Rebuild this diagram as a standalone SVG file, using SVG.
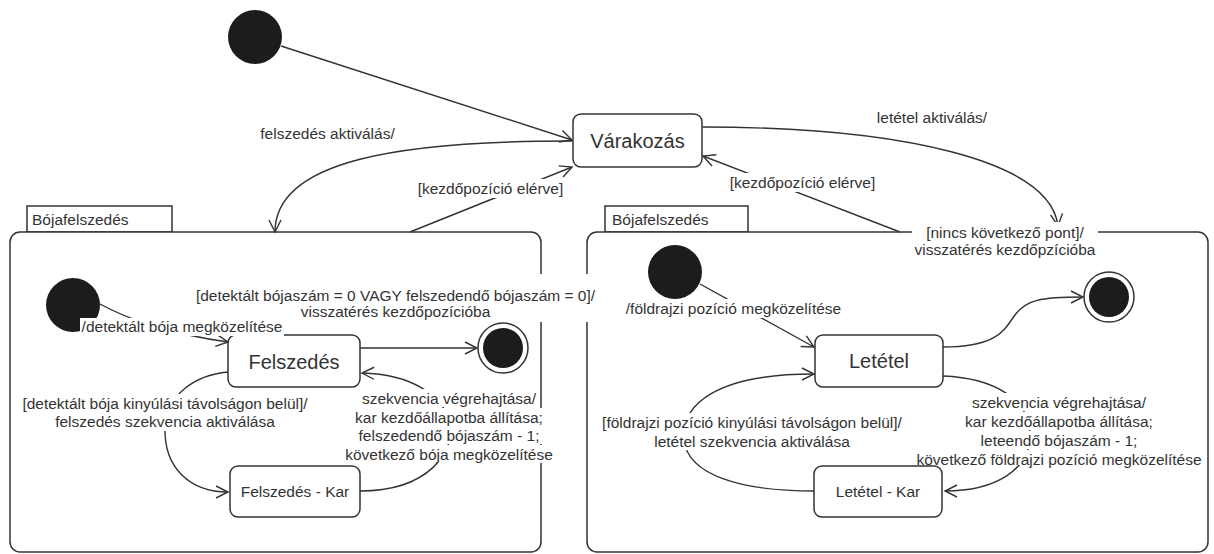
<svg xmlns="http://www.w3.org/2000/svg" width="1214" height="554" viewBox="0 0 1214 554">
<defs>
<marker id="arr" markerWidth="16" markerHeight="16" refX="13" refY="7" orient="auto" markerUnits="userSpaceOnUse"><path d="M1,1 L13,7 L1,13" fill="none" stroke="#333" stroke-width="1.4"/></marker>
<style>
.st{fill:#fff;stroke:#333;stroke-width:1.5}
.blk{fill:#1c1c1c}
.ring{fill:#fff;stroke:#333;stroke-width:1.5}
.t{font-family:"Liberation Sans",Arial,sans-serif;fill:#333}
.lbl{font-size:15.5px;text-anchor:middle}
.nm{font-size:20px;text-anchor:middle}
.sm{font-size:15.5px;text-anchor:middle}
.tab{font-size:15.5px}
.e{fill:none;stroke:#333;stroke-width:1.4;marker-end:url(#arr)}
.bg{fill:#fff}
</style>
</defs>
<rect width="1214" height="554" fill="#fff"/>

<g id="composite-felszedes">
<rect x="27" y="206" width="145" height="26" class="st"/>
<text x="32" y="225" class="t tab">Bójafelszedés</text>
<rect x="10" y="232" width="531" height="320" rx="10" class="st"/>
</g>
<g id="composite-letetel">
<rect x="605" y="206" width="143" height="26" class="st"/>
<text x="612" y="225" class="t tab">Bójafelszedés</text>
<rect x="587" y="232" width="621" height="320" rx="10" class="st"/>
</g>

<g id="connectors">
<path class="e" d="M281,46 L572,140"/>
<path class="e" d="M572,141 C400,141 275,160 275,232"/>
<path class="e" d="M410,232 L572,167"/>
<path class="e" d="M702,127 C900,127 1050,160 1058,226"/>
<path class="e" d="M900,232 L703,156"/>
<path class="e" d="M100,304 C125,318 170,334 228,342"/>
<path class="e" d="M360,348 L477,348"/>
<path class="e" d="M228,372 C195,375 166,395 165,428 C164,468 190,492 228,492"/>
<path class="e" d="M360,491 C430,491 455,450 450,425 C445,395 410,374 362,373"/>
<path class="e" d="M700,284 L814,347"/>
<path class="e" d="M943,347 C1000,347 1005,328 1015,315 C1026,300 1040,297 1083,297"/>
<path class="e" d="M943,376 C995,378 1030,400 1030,435 C1030,470 995,491 945,491"/>
<path class="e" d="M814,491 C740,491 688,475 684,440 C681,405 715,374 814,374"/>
</g>

<g id="initial-top"><circle cx="255" cy="37" r="27" class="blk"/></g>
<g id="varakozas">
<rect x="573" y="114" width="129" height="53" rx="8" class="st"/>
<text x="637.5" y="148" class="t nm" font-size="19">Várakozás</text>
</g>
<g id="initial-felszedes"><circle cx="73" cy="305" r="27" class="blk"/></g>
<g id="felszedes">
<rect x="228" y="335" width="132" height="52" rx="8" class="st"/>
<text x="294" y="369" class="t nm">Felszedés</text>
</g>
<g id="final-felszedes">
<circle cx="503" cy="348" r="25" class="ring"/>
<circle cx="503" cy="348" r="20" class="blk"/>
</g>
<g id="felszedes-kar">
<rect x="230" y="466" width="130" height="51" rx="8" class="st"/>
<text x="295" y="497" class="t sm">Felszedés - Kar</text>
</g>
<g id="initial-letetel"><circle cx="675" cy="272" r="27" class="blk"/></g>
<g id="letetel">
<rect x="815" y="335" width="128" height="52" rx="8" class="st"/>
<text x="879" y="368" class="t nm">Letétel</text>
</g>
<g id="final-letetel">
<circle cx="1109" cy="297" r="25" class="ring"/>
<circle cx="1109" cy="297" r="20" class="blk"/>
</g>
<g id="letetel-kar">
<rect x="814" y="466" width="128" height="51" rx="8" class="st"/>
<text x="878" y="497" class="t sm">Letétel - Kar</text>
</g>

<g id="labels">
<text x="327.5" y="138.5" class="t lbl">felszedés aktiválás/</text>
<rect x="416" y="179" width="150" height="19" class="bg"/>
<text x="490.5" y="193.5" class="t lbl">[kezdőpozíció elérve]</text>
<text x="932" y="122.5" class="t lbl">letétel aktiválás/</text>
<rect x="728" y="173" width="150" height="19" class="bg"/>
<text x="802.5" y="187.5" class="t lbl">[kezdőpozíció elérve]</text>
<rect x="912" y="222" width="186" height="37" class="bg"/>
<text x="1005" y="237.5" class="t lbl">[nincs következő pont]/</text>
<text x="1005" y="254.5" class="t lbl">visszatérés kezdőpzícióba</text>
<rect x="192" y="274" width="408" height="48" class="bg"/>
<text x="395.5" y="300.5" class="t lbl">[detektált bójaszám = 0 VAGY felszedendő bójaszám = 0]/</text>
<text x="395.5" y="316.5" class="t lbl">visszatérés kezdőpozícióba</text>
<rect x="80" y="318" width="204" height="18" class="bg"/>
<text x="182" y="331.5" class="t lbl">/detektált bója megközelítése</text>
<rect x="20" y="394" width="290" height="37" class="bg"/>
<text x="165" y="408.5" class="t lbl">[detektált bója kinyúlási távolságon belül]/</text>
<text x="165" y="426.5" class="t lbl">felszedés szekvencia aktiválása</text>
<rect x="360" y="389" width="178" height="18" class="bg"/>
<rect x="353" y="408" width="192" height="18" class="bg"/>
<rect x="356" y="426" width="186" height="18" class="bg"/>
<rect x="343" y="445" width="212" height="18" class="bg"/>
<text x="449" y="403.5" class="t lbl">szekvencia végrehajtása/</text>
<text x="449" y="422.5" class="t lbl">kar kezdőállapotba állítása;</text>
<text x="449" y="440.5" class="t lbl">felszedendő bójaszám - 1;</text>
<text x="449" y="459.5" class="t lbl">következő bója megközelítése</text>
<rect x="625" y="299" width="217" height="19" class="bg"/>
<text x="733.5" y="313.5" class="t lbl">/földrajzi pozíció megközelítése</text>
<rect x="598" y="413" width="308" height="37" class="bg"/>
<text x="752" y="427.5" class="t lbl">[földrajzi pozíció kinyúlási távolságon belül]/</text>
<text x="752" y="446.5" class="t lbl">letétel szekvencia aktiválása</text>
<rect x="970" y="393" width="178" height="18" class="bg"/>
<rect x="963" y="412" width="192" height="18" class="bg"/>
<rect x="967" y="431" width="184" height="18" class="bg"/>
<rect x="944" y="450" width="260" height="15" class="bg"/>
<text x="1059" y="407.5" class="t lbl">szekvencia végrehajtása/</text>
<text x="1059" y="426.5" class="t lbl">kar kezdőállapotba állítása;</text>
<text x="1059" y="445.5" class="t lbl">leteendő bójaszám - 1;</text>
<text x="1059" y="464.5" class="t lbl">következő földrajzi pozíció megközelítése</text>
</g>
</svg>
